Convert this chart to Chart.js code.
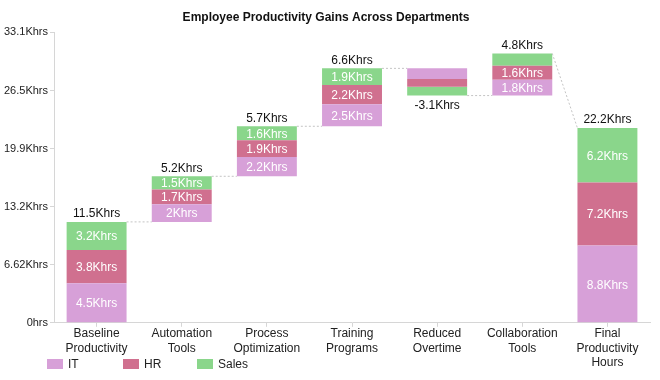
<!DOCTYPE html>
<html>
<head>
<meta charset="utf-8">
<script src="https://cdn.jsdelivr.net/npm/chart.js@4"></script>
<style>
  html, body { margin: 0; padding: 0; background: #fff; }
  #wrap { width: 660px; height: 380px; }
</style>
</head>
<body>
<div id="wrap"><canvas id="chart"></canvas></div>
<script>
// Data
const categories = [
  ["Baseline", "Productivity"],
  ["Automation", "Tools"],
  ["Process", "Optimization"],
  ["Training", "Programs"],
  ["Reduced", "Overtime"],
  ["Collaboration", "Tools"],
  ["Final", "Productivity", "Hours"]
];
const itValues    = [4.5, 2.0, 2.2, 2.5, -1.2, 1.8, 8.8];
const hrValues    = [3.8, 1.7, 1.9, 2.2, -0.9, 1.6, 7.2];
const salesValues = [3.2, 1.5, 1.6, 1.9, -1.0, 1.4, 6.2];
const yTicks = [0, 6.62, 13.24, 19.86, 26.48, 33.1];
const seriesNames = ["IT", "HR", "Sales"];
const colors = ["#d7a0d8", "#d0708f", "#8ad68b"];

const series = [itValues, hrValues, salesValues];
const lastIndex = categories.length - 1;

// Build floating ranges (waterfall), last bar is an absolute total
const ranges = series.map(() => []);
const barStart = [];
const barEnd = [];
let running = 0;
categories.forEach((c, i) => {
  let level = i === lastIndex ? 0 : running;
  barStart.push(level);
  series.forEach((vals, s) => {
    ranges[s].push([level, level + vals[i]]);
    level += vals[i];
  });
  barEnd.push(level);
  if (i !== lastIndex) running = level;
});

const round1 = v => Math.round(v * 10) / 10;
const fmt = v => round1(v) + "Khrs";

// Labels and connectors
const waterfallPlugin = {
  id: "waterfall",
  afterDatasetsDraw(chart) {
    const ctx = chart.ctx;
    const y = chart.scales.y;
    const meta0 = chart.getDatasetMeta(0);

    // dotted connectors
    ctx.save();
    ctx.strokeStyle = "#c4c4c4";
    ctx.lineWidth = 1;
    ctx.setLineDash([2, 2]);
    for (let i = 0; i < lastIndex; i++) {
      const a = meta0.data[i], b = meta0.data[i + 1];
      const target = i + 1 === lastIndex ? barEnd[i + 1] : barStart[i + 1];
      ctx.beginPath();
      ctx.moveTo(a.x + a.width / 2, y.getPixelForValue(barEnd[i]));
      ctx.lineTo(b.x - b.width / 2, y.getPixelForValue(target));
      ctx.stroke();
    }
    ctx.restore();

    // segment labels
    ctx.save();
    ctx.font = "12px 'Liberation Sans', Arial, sans-serif";
    ctx.textAlign = "center";
    ctx.textBaseline = "middle";
    ctx.fillStyle = "#fff";
    series.forEach((vals, s) => {
      const meta = chart.getDatasetMeta(s);
      vals.forEach((v, i) => {
        if (v < 1.5) return;
        const r = ranges[s][i];
        const el = meta.data[i];
        const py = (y.getPixelForValue(r[0]) + y.getPixelForValue(r[1])) / 2;
        ctx.fillText(fmt(v), el.x, py + 1);
      });
    });

    // totals
    ctx.fillStyle = "#111";
    categories.forEach((c, i) => {
      const total = series.reduce((sum, vals) => sum + vals[i], 0);
      const el = meta0.data[i];
      if (total >= 0) {
        ctx.textBaseline = "bottom";
        ctx.fillText(fmt(total), el.x, y.getPixelForValue(Math.max(barStart[i], barEnd[i])) - 2);
      } else {
        ctx.textBaseline = "top";
        ctx.fillText(fmt(total), el.x, y.getPixelForValue(Math.min(barStart[i], barEnd[i])) + 4);
      }
    });
    ctx.restore();
  },
  afterDraw(chart) {
    // legend
    const ctx = chart.ctx;
    const xs = [47, 123, 197];
    ctx.save();
    ctx.font = "12px 'Liberation Sans', Arial, sans-serif";
    ctx.textBaseline = "middle";
    ctx.textAlign = "left";
    seriesNames.forEach((name, s) => {
      ctx.fillStyle = colors[s];
      ctx.fillRect(xs[s], 359, 16, 10);
      ctx.fillStyle = "#222";
      ctx.fillText(name, xs[s] + 21, 365);
    });
    ctx.restore();
  }
};

new Chart(document.getElementById("chart"), {
  type: "bar",
  data: {
    labels: categories,
    datasets: seriesNames.map((name, s) => ({
      label: name,
      data: ranges[s],
      backgroundColor: colors[s],
      borderWidth: 0,
      categoryPercentage: 0.8,
      barPercentage: 0.88
    }))
  },
  options: {
    responsive: true,
    maintainAspectRatio: false,
    animation: false,
    layout: { padding: { left: 2, right: 10, bottom: 10, top: 0 } },
    plugins: {
      legend: { display: false },
      tooltip: { enabled: false },
      title: {
        display: true,
        text: "Employee Productivity Gains Across Departments",
        color: "#111",
        font: { family: "'Liberation Sans', Arial, sans-serif", size: 12, weight: "bold" },
        padding: { top: 10, bottom: 8 }
      }
    },
    scales: {
      x: {
        stacked: true,
        grid: { offset: false, drawOnChartArea: false, drawTicks: true, tickLength: 4, color: "#d6d6d6" },
        border: { color: "#d6d6d6" },
        ticks: {
          color: "#222",
          padding: 0,
          maxRotation: 0,
          font: { family: "'Liberation Sans', Arial, sans-serif", size: 12 }
        }
      },
      y: {
        stacked: false,
        min: 0,
        max: 33.1,
        grid: { drawOnChartArea: false, drawTicks: true, tickLength: 4, color: "#d6d6d6" },
        border: { color: "#d6d6d6" },
        afterBuildTicks(axis) {
          axis.ticks = yTicks.map(v => ({ value: v }));
        },
        ticks: {
          color: "#222",
          padding: 2,
          font: { family: "'Liberation Sans', Arial, sans-serif", size: 11 },
          callback: v => v === 0 ? "0hrs" : Number(v).toPrecision(3) + "Khrs"
        }
      }
    }
  },
  plugins: [waterfallPlugin]
});
</script>
</body>
</html>
